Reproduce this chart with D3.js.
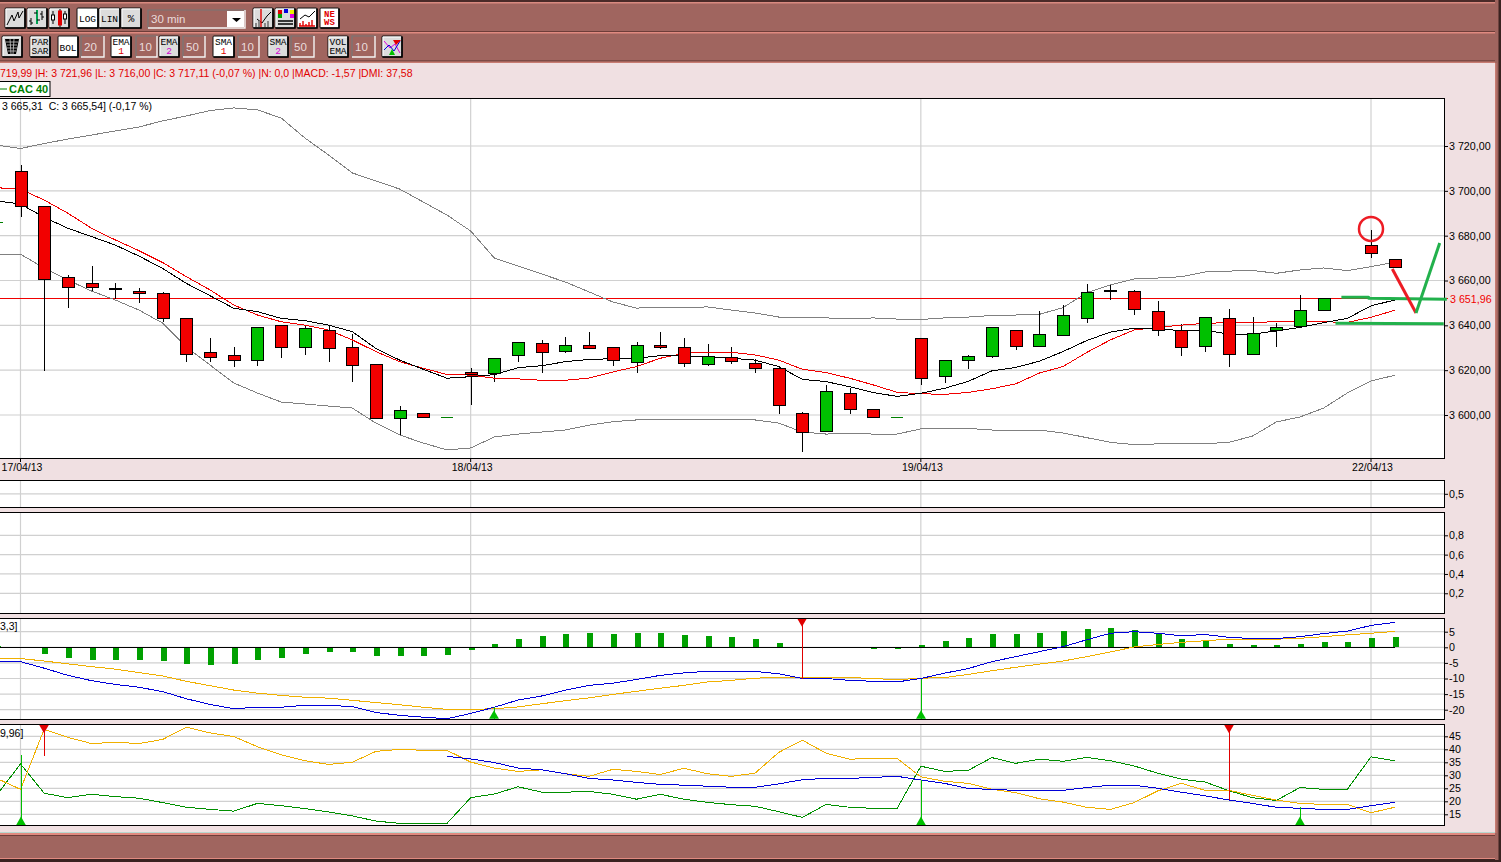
<!DOCTYPE html>
<html>
<head>
<meta charset="utf-8">
<script src="https://cdn.jsdelivr.net/npm/d3@7"></script>
<style>
html,body{margin:0;padding:0;background:#f0e0e2;overflow:hidden}
svg{display:block}
text{font-family:"Liberation Sans",Arial,sans-serif;font-size:10.5px;white-space:pre}
.btn text{font-family:"Liberation Mono",monospace}
</style>
</head>
<body>
<svg id="chart" width="1501" height="862"></svg>
<script>
// values start at the bar just left of the window (index -1)
var opens =[3685.9,3708.7,3693.1,3661.4,3658.7,3656.5,3655.2,3654.3,3643.1,3628,3626.6,3624.4,3640,3630.2,3637.6,3630.2,3622.6,3598.5,3600.7,3599,3619,3618.4,3626.5,3632,3628.4,3631.1,3630.2,3623.5,3631.1,3630.2,3622.5,3625.7,3623,3620.8,3600.7,3592.6,3609.7,3602.5,3599.1,3634.2,3617.2,3624.4,3626.2,3637.8,3630.7,3635.6,3643.1,3655.6,3655.1,3646.2,3637.8,3630.7,3643.1,3627.1,3637.6,3639.4,3646.7,null,3675.6,3669.3];
var highs =[3685.9,3711.5,3693.1,3662.5,3666.5,3658.9,3656.5,3654.7,3643.1,3634.3,3630.3,3639.1,3640,3640,3640,3636.1,3622.6,3604,3600.7,3599,3620.8,3625.3,3632.4,3633.5,3634.8,3637,3630.5,3632.6,3637,3634.3,3631.7,3630.3,3624.8,3620.8,3601.2,3613.4,3612.2,3602.5,3599.1,3634.2,3624.4,3626.8,3639.1,3637.8,3646.2,3649.2,3658.4,3657.8,3655.7,3650.8,3640.4,3643.6,3647.3,3643.7,3641,3653.5,3652,null,3682.4,3669.3];
var lows  =[3685.9,3688.5,3619.8,3647.9,3655.3,3651.9,3650.1,3641.6,3623.8,3623.8,3621.6,3622,3625.6,3626.9,3623.8,3614.9,3598,3590.9,3599,3599,3604.6,3614.9,3623.8,3618.9,3627.8,3629.6,3622,3618.9,3629.6,3621.6,3621.9,3622.9,3618.9,3600.6,3583.6,3592.6,3600.6,3599,3599.1,3613.5,3614.4,3620.7,3625.6,3629.2,3630.7,3635.6,3641.2,3651.4,3644.7,3635.4,3626.5,3627.9,3621.6,3627.1,3630.5,3638.7,3646.7,null,3670.1,3665.6];
var closes=[3685.9,3693.1,3660.5,3657,3657,3655.9,3654.1,3643.1,3627.1,3625.6,3624.4,3639.1,3630.2,3638.7,3629.7,3622.2,3598.5,3602.1,3599,3599,3618,3625.3,3632.4,3628,3631.1,3629.6,3624.4,3631.1,3630,3622.9,3626,3623.8,3620.7,3604.2,3592.1,3610.6,3602.5,3599,3599.1,3616.4,3624.4,3626.2,3639.1,3630.7,3636,3644.4,3654.7,3655.1,3647.1,3637.8,3630.2,3643.6,3627.1,3636.4,3639.1,3646.7,3652,null,3672,3665.6];

var bolUpper=[3720.4,3718.9,3721.1,3723.1,3724.9,3726.7,3728.5,3731.2,3733.4,3735.8,3737,3736.1,3732.5,3723.6,3716,3708,3704.4,3700.8,3695,3689.2,3682.1,3670,3666.5,3662.9,3659.3,3654.9,3650.4,3647.7,3648,3648,3648.2,3646.8,3645.5,3643.7,3643.7,3643.3,3643,3643.3,3642.8,3642.6,3643.3,3643.7,3644.4,3644.6,3644.9,3647.9,3654.6,3658,3660.7,3661.1,3661.7,3663.8,3664.2,3664.5,3663.2,3664.7,3665.6,3664.4,3666.2,3668.1];
var bolLower=[3671.7,3671.7,3665.6,3660.2,3655.3,3651.3,3646.8,3641,3630.3,3622.3,3614.3,3609.8,3605.8,3604.9,3604,3603.1,3596.4,3591.1,3587.5,3584.4,3585.3,3590.2,3591.5,3592.4,3593.3,3595.5,3597,3597.8,3597.8,3597.8,3597.8,3598.2,3597.8,3596.4,3592.4,3591.5,3591.7,3591.5,3591.5,3593.8,3594.1,3594,3593.3,3593.3,3593.3,3592,3589.9,3587.8,3586.8,3587.1,3587.1,3587.2,3587.8,3590.6,3596.9,3599.1,3603.1,3609.8,3615.2,3617.7];
var emaBlack=[3695.5,3694.1,3688.2,3683.3,3679.6,3675.8,3670.9,3665.4,3658.7,3653.2,3647.6,3646.1,3643.1,3642.1,3640.1,3637.2,3629.7,3624.5,3620.4,3616.4,3617.1,3618,3621.1,3622,3623.8,3624.8,3625.1,3625.3,3626.5,3626.3,3626,3625.3,3624.5,3621.6,3615.9,3614.9,3612.6,3610,3608.3,3609.7,3611.9,3615,3619.7,3621.2,3624,3628.3,3633.2,3637,3638.7,3638.7,3637.5,3637.9,3636,3636.1,3637.5,3639.1,3641.2,3643.1,3648.7,3651.3];
var emaRed=[3701.4,3700.7,3695.9,3690,3683.3,3678.1,3673.3,3668,3661.7,3655.8,3649.1,3644.6,3641.6,3640.1,3637.9,3633.5,3628.3,3623.8,3620.8,3618.1,3617.8,3616.4,3616.1,3615.5,3615.5,3616.5,3619.2,3621.6,3625.3,3627.5,3628.1,3628,3626.8,3624.5,3620.4,3618.9,3616.4,3613.4,3610.1,3609.5,3609.2,3610.1,3611.7,3613.9,3618.7,3621.6,3627.9,3633.5,3637.9,3639.1,3640.1,3640.9,3641.2,3641.3,3641.6,3641.6,3641.6,3641.3,3643.6,3646.7];
var refPrice=3651.96;

var macdHist=[0.3,null,-2.1,-3.4,-4.1,-4.1,-4.1,-4.4,-5.4,-5.7,-5.4,-4.1,-3.4,-2.1,-1.5,-1.5,-2.8,-2.8,-2.8,-2.4,-0.9,1.1,2.7,3.6,4.3,4.6,4.3,4.6,4.6,4,3.6,3.3,2.7,1.4,null,null,null,-0.4,-0.4,0.7,2,3,4.3,4.3,4.6,5.2,5.9,6.2,5.6,4.3,2.7,2,1.1,0.7,0.7,1.1,1.7,1.7,3,3.3];
var macdLine=[-4.6,-4.6,-6.7,-9,-10.7,-11.9,-12.8,-14.2,-16.5,-18.3,-19.7,-19.2,-19.2,-18.6,-18.6,-19,-20.9,-21.8,-22.4,-22.9,-21.2,-19.2,-16.9,-15.6,-13.7,-12.2,-11.5,-10.3,-9,-8.2,-7.7,-7.7,-7.7,-8.5,-10,-10,-10.6,-10.9,-11.1,-10,-8.3,-6.8,-4.6,-3,-1.4,0.2,2.4,4.5,5,4.5,3.7,4.1,3.2,2.8,2.8,3.4,4.4,5.2,7,8];
var macdSignal=[-3.6,-3.6,-4.4,-5.3,-6.2,-7,-8.1,-9.2,-10.9,-12.3,-13.7,-14.7,-15.4,-16,-16.3,-17,-17.7,-18.4,-19.2,-19.9,-19.9,-19.7,-19.1,-18.1,-17.1,-16.2,-15.1,-14.1,-13.1,-12.2,-11.1,-10.6,-9.9,-9.6,-9.7,-9.7,-9.7,-10,-10.4,-9.9,-9.7,-8.7,-7.5,-6.4,-5.4,-4.4,-3,-1.5,0.1,0.9,1.6,2.1,2.6,2.6,2.6,2.9,3.4,4,4.5,5.1];

var dmiPlus=[22.4,34.4,23.1,21.4,22.7,21.8,21.2,19.5,17.7,16.9,16.2,19.2,18.3,17.2,15.9,14.4,12.4,11.5,11.5,11.5,21.4,22.8,25.6,23.5,23.5,23.8,22.7,20.8,22.7,20.8,19.6,18.7,18.1,16,13.8,18.8,17.7,17.3,17.3,33.5,31.5,31.9,36.8,34.6,36.2,35.4,36.9,35.6,33.6,30.8,28.5,27.4,24.1,21.4,20.3,25.3,24.6,24.6,37.1,35.6];
var dmiMinus=[28.8,24.6,47.7,44.6,42.2,42.7,42.2,43.8,48.5,46.3,44.9,41,37.9,35.6,34.2,35,39.2,40,39.6,39.6,35.1,32.8,31.5,32.1,30.6,29.6,32.3,31.5,30.3,32.7,30.6,29.6,30.8,38.8,43.5,38.5,36.2,36.5,36.5,29.4,27.7,26.9,24.6,23.3,21,19.7,17.7,16.9,19.5,24,26.9,24.2,24.2,22.3,20.5,19.2,18.8,18.8,15.6,17.7];
var dmiAdx=[null,null,null,null,null,null,null,null,null,null,null,null,null,null,null,null,null,null,null,37.3,36.3,34.9,32.8,32.1,30.6,28.8,28.2,27.3,26.5,26.2,25.8,25.4,25.4,26.7,28.3,28.8,28.8,29.2,29.6,28.2,26.9,24.9,24.6,24.2,24.2,24.2,25.3,26.2,26.2,25,23.5,22.1,20.5,19.2,17.7,17.3,16.9,16.9,18.3,19.6];

// [bar index, value the signal stem reaches]
var macdBuy=[[20,-19.2],[38,-10]], macdSell=[[33,-10]];
var dmiBuy=[[0,37.7],[38,28.2],[54,17.7]], dmiSell=[[1,37.6],[51,20.5]];

var priceTicks=[3600,3620,3640,3660,3680,3700,3720];
var pctTicksTop=[0.5], pctTicks=[0.2,0.4,0.6,0.8];
var macdTicks=[-20,-15,-10,-5,0,5], dmiTicks=[15,20,25,30,35,40,45];
var dateLabels=[[0,"17/04/13"],[19,"18/04/13"],[38,"19/04/13"],[57,"22/04/13"]];

// drawn by hand on top of the chart: [bar index, price]
var drawnDown=[[57.9,3665.1],[58.9,3645.5]];
var drawnUp=[[58.9,3645.5],[59.9,3676.7]];
var drawnResist=[[55.75,3652.5],[56.9,3652.5],[56.9,3652.1],[60.2,3651.6]];
var drawnSupport=[[55.5,3640.9],[60.07,3640.7]];
var drawnCircle=[57,3683];

var BROWN="#a0655f", PINK="#f0e0e2", GRID="#d0d0d0", RED="#f20000", GREEN="#00c000";
var RIGHT=1444;

var svg=d3.select("#chart");
var fr=d3.formatLocale({decimal:",",thousands:" ",grouping:[3],currency:["","€"]});

var x=d3.scaleLinear().domain([0,57]).range([20.5,1371]);
var yPrice=d3.scaleLinear().domain([3600,3720]).range([415,146]);
var yTop=d3.scaleLinear().domain([0,1]).range([507.3,480.3]);
var yPct=d3.scaleLinear().domain([0,1]).range([612.6,516]);
var yMacd=d3.scaleLinear().domain([-20,5]).range([709.7,631.7]);
var yDmi=d3.scaleLinear().domain([15,45]).range([814.3,736.3]);

svg.append("rect").attr("width",1501).attr("height",862).attr("fill",PINK);

svg.append("defs").append("clipPath").attr("id","plotClip")
    .append("rect").attr("x",0).attr("y",90).attr("width",RIGHT).attr("height",740);

/////////////////panels
function addPanel(top,bottom,y,ticks,fmt) {
    var g=svg.append("g");
    g.append("rect").attr("x",-2).attr("y",top).attr("width",RIGHT+2).attr("height",bottom-top).attr("fill","#fff");
    g.selectAll("line.h").data(ticks).enter().append("line").attr("class","h")
        .attr("x1",0).attr("x2",RIGHT)
        .attr("y1",function (d) {return y(d)}).attr("y2",function (d) {return y(d)})
        .attr("stroke",GRID).attr("stroke-width",1.2);
    g.selectAll("line.v").data(dateLabels).enter().append("line").attr("class","v")
        .attr("x1",function (d) {return x(d[0])}).attr("x2",function (d) {return x(d[0])})
        .attr("y1",top).attr("y2",bottom)
        .attr("stroke",GRID).attr("stroke-width",1.2);
    var axis=svg.append("g").attr("transform","translate("+RIGHT+",0)")
        .call(d3.axisRight(y).tickValues(ticks).tickSize(4).tickPadding(1).tickFormat(fmt));
    axis.select(".domain").remove();
    axis.selectAll("text").attr("fill","#000").style("font-size","10.7px");
    axis.selectAll("line").attr("stroke","#000");
    return g;
}
function addFrame(top,bottom) {
    svg.append("rect").attr("x",-2).attr("y",top).attr("width",RIGHT+2).attr("height",bottom-top)
        .attr("fill","none").attr("stroke","#000").attr("stroke-width",1).attr("shape-rendering","crispEdges");
}
var priceFmt=fr.format(",.2f"), commaFmt=function (d) {return fr.format(".1f")(d)}, intFmt=function (d) {return d3.format("d")(d).replace("−","-")};

addPanel(98,458,yPrice,priceTicks,priceFmt);
addPanel(480.3,507.3,yTop,pctTicksTop,commaFmt);
addPanel(512,613.3,yPct,pctTicks,commaFmt);
addPanel(618,719,yMacd,macdTicks,intFmt);
addPanel(724.5,825.3,yDmi,dmiTicks,intFmt);

var plot=svg.append("g").attr("clip-path","url(#plotClip)");

function addLine(values,y,color,width) {
    var line=d3.line()
        .defined(function (d) {return d!=null})
        .x(function (d,i) {return x(i-1)})
        .y(function (d) {return y(d)});
    return plot.append("path").attr("d",line(values)).attr("fill","none")
        .attr("stroke",color).attr("stroke-width",width||1).attr("shape-rendering","crispEdges");
}

/////////////////price panel
plot.append("line").attr("x1",0).attr("x2",RIGHT)
    .attr("y1",yPrice(refPrice)).attr("y2",yPrice(refPrice))
    .attr("stroke","#f00000").attr("stroke-width",1).attr("shape-rendering","crispEdges");
addLine(bolUpper,yPrice,"#808080");
addLine(bolLower,yPrice,"#808080");

var candleData=d3.range(opens.length).map(function (i) {
    return {i:i-1,o:opens[i],h:highs[i],l:lows[i],c:closes[i]};
}).filter(function (d) {return d.o!=null});

var candles=plot.append("g").attr("shape-rendering","crispEdges");
candles.selectAll("line").data(candleData.filter(function (d) {return d.h>d.l})).enter().append("line")
    .attr("x1",function (d) {return Math.round(x(d.i))}).attr("x2",function (d) {return Math.round(x(d.i))})
    .attr("y1",function (d) {return yPrice(d.h)}).attr("y2",function (d) {return yPrice(d.l)})
    .attr("stroke","#000");

addLine(emaRed,yPrice,"#f00000");
addLine(emaBlack,yPrice,"#000");

candles=plot.append("g").attr("shape-rendering","crispEdges");
candles.selectAll("rect").data(candleData).enter().append("rect")
    .attr("x",function (d) {return Math.round(x(d.i))-6})
    .attr("width",12)
    .attr("y",function (d) {return d.o==d.c?yPrice(d.o):yPrice(Math.max(d.o,d.c))})
    .attr("height",function (d) {return d.o==d.c?1:Math.abs(yPrice(d.o)-yPrice(d.c))})
    .attr("fill",function (d) {
        if(d.o==d.c) return "#008000";
        if(Math.abs(d.o-d.c)<1) return "#000";
        return d.c>d.o?GREEN:RED;
    })
    .attr("stroke",function (d) {return d.o==d.c?"none":"#000"});

/////////////////macd panel
plot.selectAll("rect.hist").data(macdHist.map(function (v,i) {return {i:i-1,v:v}}).filter(function (d) {return d.v!=null}))
    .enter().append("rect").attr("class","hist")
    .attr("x",function (d) {return Math.round(x(d.i))-2})
    .attr("width",6)
    .attr("y",function (d) {return Math.min(yMacd(0),yMacd(d.v))})
    .attr("height",function (d) {return Math.abs(yMacd(d.v)-yMacd(0))})
    .attr("fill","#00a000").attr("shape-rendering","crispEdges");
plot.append("line").attr("x1",0).attr("x2",x(58))
    .attr("y1",yMacd(0)).attr("y2",yMacd(0))
    .attr("stroke","#000").attr("shape-rendering","crispEdges");
addLine(macdSignal,yMacd,"#f0b000",1);
addLine(macdLine,yMacd,"#0000d8",1);

/////////////////dmi panel
addLine(dmiPlus,yDmi,"#009000");
addLine(dmiMinus,yDmi,"#f0b000");
addLine(dmiAdx,yDmi,"#0000d8",1);

// signal stems with their triangles at the panel edge
function addSignals(list,y,edge,color,dir) {
    var g=plot.append("g");
    list.forEach(function (s) {
        g.append("line").attr("x1",Math.round(x(s[0]))).attr("x2",Math.round(x(s[0])))
            .attr("y1",edge).attr("y2",y(s[1]))
            .attr("stroke",color).attr("stroke-width",1).attr("shape-rendering","crispEdges");
        g.append("path").attr("d",d3.symbol(d3.symbolTriangle,42)())
            .attr("transform","translate("+Math.round(x(s[0]))+","+(edge-dir*3)+")"+(dir<0?" rotate(180)":""))
            .attr("fill",color);
    });
}
addSignals(macdBuy,yMacd,719,"#00c000",1);
addSignals(macdSell,yMacd,618,"#e00000",-1);
addSignals(dmiBuy,yDmi,825.3,"#00c000",1);
addSignals(dmiSell,yDmi,724.5,"#e00000",-1);

addFrame(98,458);addFrame(480.3,507.3);addFrame(512,613.3);addFrame(618,719);addFrame(724.5,825.3);

// date labels under the price panel
svg.selectAll("text.date").data(dateLabels).enter().append("text").attr("class","date")
    .attr("x",function (d) {return x(d[0])+1.5}).attr("y",471).attr("text-anchor","middle")
    .attr("fill","#000").text(function (d) {return d[1]});
svg.selectAll("line.dateTick").data(dateLabels).enter().append("line").attr("class","dateTick")
    .attr("x1",function (d) {return x(d[0])}).attr("x2",function (d) {return x(d[0])})
    .attr("y1",458).attr("y2",462).attr("stroke","#000");

// last price tag, sits where the axis tick would
svg.append("text").attr("x",1450).attr("y",yPrice(refPrice)+4).attr("fill","#f00000").style("font-size","10.7px").text(priceFmt(refPrice));
svg.append("line").attr("x1",RIGHT).attr("x2",RIGHT+4).attr("y1",yPrice(refPrice)).attr("y2",yPrice(refPrice)).attr("stroke","#f00000");

// hand drawn lines
var drawn=d3.line().x(function (d) {return x(d[0])}).y(function (d) {return yPrice(d[1])});
function addDrawn(pts,color) {
    svg.append("path").attr("d",drawn(pts)).attr("fill","none").attr("stroke",color)
        .attr("stroke-width",3).attr("stroke-linejoin","round");
}
addDrawn(drawnResist,"#22b14c");
addDrawn(drawnSupport,"#22b14c");
addDrawn(drawnDown,"#ed1c24");
addDrawn(drawnUp,"#22b14c");
svg.append("circle").attr("cx",x(drawnCircle[0])).attr("cy",yPrice(drawnCircle[1])).attr("r",12)
    .attr("fill","none").attr("stroke","#ed1c24").attr("stroke-width",2.5);

// text on the pink band and inside the panels
svg.append("text").attr("x",0).attr("y",77).attr("fill","#e00000")
    .text("719,99 |H: 3 721,96 |L: 3 716,00 |C: 3 717,11 (-0,07 %) |N: 0,0 |MACD: -1,57 |DMI: 37,58");
svg.append("rect").attr("x",-2).attr("y",81.5).attr("width",52).attr("height",15).attr("fill","#fff").attr("stroke","#000");
svg.append("line").attr("x1",0).attr("x2",7).attr("y1",89).attr("y2",89).attr("stroke","#008000");
svg.append("text").attr("x",9).attr("y",93).attr("fill","#008000").style("font-weight","bold").style("font-size","11px").text("CAC 40");
svg.append("text").attr("x",2).attr("y",110).attr("fill","#000").text("3 665,31  C: 3 665,54] (-0,17 %)");
svg.append("text").attr("x",0).attr("y",630).attr("fill","#000").text("3,3]");
svg.append("text").attr("x",0).attr("y",737).attr("fill","#000").text("9,96]");

/////////////////window chrome
function band(x0,y0,w,h,color) {
    svg.append("rect").attr("x",x0).attr("y",y0).attr("width",w).attr("height",h).attr("fill",color);
}
band(0,0,1501,63,BROWN);
band(0,0,1501,2,"#4a2a28");
band(0,2,1501,1.5,"#d98a80");
band(0,31,1501,1,"#6e3d39");
band(0,32,1501,1.5,"#e08a80");
band(0,60.5,1501,1,"#5a302c");
band(0,61.5,1501,1.5,"#c87c72");
band(0,833,1501,27,BROWN);
band(0,832,1495,1,"#b8d8d0");
band(0,833,1501,2,"#e08a80");
band(0,835,1501,1,"#6e3d39");
band(0,858,1501,1,"#e08a80");
band(0,859,1501,3,"#3a2220");
band(1495,0,6,860,BROWN);
band(1495,63,1.5,770,"#c87c72");
band(1498.5,0,2.5,862,"#3a2220");

function button(x0,y0,w,h,pressed) {
    var g=svg.append("g").attr("class","btn").attr("transform","translate("+x0+","+y0+")");
    g.append("rect").attr("width",w).attr("height",h).attr("rx",1).attr("fill",pressed?"#fff":"#dcdcdc")
        .attr("stroke","#111").attr("stroke-width",1);
    g.append("path").attr("d","M"+w+",0.5V"+h+"H0.5").attr("fill","none").attr("stroke","#000").attr("stroke-width",1.6);
    if(!pressed) g.append("path").attr("d","M1,"+(h-1)+"V1H"+(w-1)).attr("fill","none").attr("stroke","#fff");
    return g;
}
function label(g,t,cx,cy,size,color,bold) {
    g.append("text").attr("x",cx).attr("y",cy).attr("text-anchor","middle")
        .style("font-size",size+"px").style("font-weight",bold?"bold":"normal").attr("fill",color||"#000").text(t);
}
function field(x0,y0,w,h,t) {
    svg.append("rect").attr("x",x0).attr("y",y0).attr("width",w).attr("height",h).attr("fill",BROWN);
    svg.append("path").attr("d","M"+x0+","+(y0+h)+"V"+y0+"H"+(x0+w)).attr("fill","none").attr("stroke","#777").attr("stroke-width",1.2);
    svg.append("path").attr("d","M"+(x0+w)+","+y0+"V"+(y0+h)+"H"+x0).attr("fill","none").attr("stroke","#f4f4f4").attr("stroke-width",1.4);
    svg.append("text").attr("x",x0+3).attr("y",y0+h/2+4).attr("fill","#eadcdc").text(t).style("font-size","11.5px");
}
function stroke(g,d,color,w) {
    g.append("path").attr("d",d).attr("fill","none").attr("stroke",color||"#000").attr("stroke-width",w||1);
}
function fillRect(g,a,b,w,h,color,edge) {
    g.append("rect").attr("x",a).attr("y",b).attr("width",w).attr("height",h).attr("fill",color).attr("stroke",edge||"none");
}

// first row
var b=button(5,8,20,20);
stroke(b,"M2,17L7,7L9,13L13,4L14,10L18,3");
b=button(27,8,20,20);
stroke(b,"M4,10V17M2,13H4M4,15H6M15,3V12M13,6H15M15,9H17");
stroke(b,"M10,2V16","#00a050",2);
stroke(b,"M10,5H7M10,12H13");
b=button(49,8,20,20);
stroke(b,"M4,3V16M11,1V19M16,3V16");
fillRect(b,2.5,7,3,5,"#fff","#000");fillRect(b,9.5,3,3,14,"#e00000","#e00000");fillRect(b,14.5,6,3,5,"#fff","#000");
b=button(77,8,21,20,true);label(b,"LOG",10.5,14,9.5);
b=button(99,8,21,20);label(b,"LIN",10.5,14,9.5);
b=button(121,8,20,20);label(b,"%",10,14,11);
field(148,10,97,18,"30 min");
svg.append("rect").attr("x",227).attr("y",11).attr("width",17).attr("height",16).attr("fill","#fff");
svg.append("path").attr("d","M232,18h9l-4.5,4z").attr("fill","#000");
b=button(253,8,20,20);
stroke(b,"M4,11L9,15L14,8L18,4","#000");
stroke(b,"M8,1V19","#e00000",1.4);
stroke(b,"M3,19V15M6,19V13M12,19V15M15,19V13","#888",2);
b=button(275,8,20,20);
fillRect(b,3,2,4,4,"#e00000");fillRect(b,9,1,4,4,"#0000e0");fillRect(b,15,2,4,4,"#f0f000");
fillRect(b,3,6,4,4,"#00a000");fillRect(b,15,6,4,4,"#e000e0");
stroke(b,"M3,13H18M3,16H18","#000",1.4);
b=button(297,8,20,20,true);
stroke(b,"M3,11L8,7L12,9L18,3");stroke(b,"M3,18V15M6,18V13M9,18V16M12,18V14M15,18V12M2,18H18","#e00000",1.4);
b=button(320,8,19,20,true);
label(b,"NE",9.5,9,9,"#e00000",true);label(b,"WS",9.5,17,9,"#e00000",true);

// second row
b=button(2,36,20,21);
b.append("path").attr("d","M3,3H17L14,18H6Z").attr("fill","#000");
stroke(b,"M4,6H16M5,9H15M5,12H15M6,15H14M8,3L9,18M12,3L11,18","#ccc",0.8);
b=button(30,36,20,21);label(b,"PAR",10,9,9.5);label(b,"SAR",10,18,9.5);
b=button(58,36,20,21,true);label(b,"BOL",10,14.5,9.5);
field(81,36,23,21,"20");
b=button(111,36,20,21,true);label(b,"EMA",10,9,9.5);label(b,"1",10,18,9.5,"#e00000");
field(136,36,21,21,"10");
b=button(159,36,20,21);label(b,"EMA",10,9,9.5);label(b,"2",10,18,9.5,"#d000d0");
field(183,36,22,21,"50");
b=button(213,36,21,21,true);label(b,"SMA",10.5,9,9.5);label(b,"1",10.5,18,9.5,"#e00000");
field(238,36,21,21,"10");
b=button(268,36,20,21);label(b,"SMA",10,9,9.5);label(b,"2",10,18,9.5,"#d000d0");
field(291,36,23,21,"50");
b=button(328,36,20,21);label(b,"VOL",10,9,9.5);label(b,"EMA",10,18,9.5);
field(352,36,23,21,"10");
b=button(382,36,20,21);
stroke(b,"M2,5L8,12L13,8L18,17","#e000e0");stroke(b,"M2,14L7,9L12,15L18,5","#0000e0");
b.append("path").attr("d","M10,8L15,3H7Z").attr("transform","translate(4,1)").attr("fill","#e00000");
b.append("path").attr("d","M7,19H13L10,13Z").attr("fill","#00c000");
</script>
</body>
</html>
